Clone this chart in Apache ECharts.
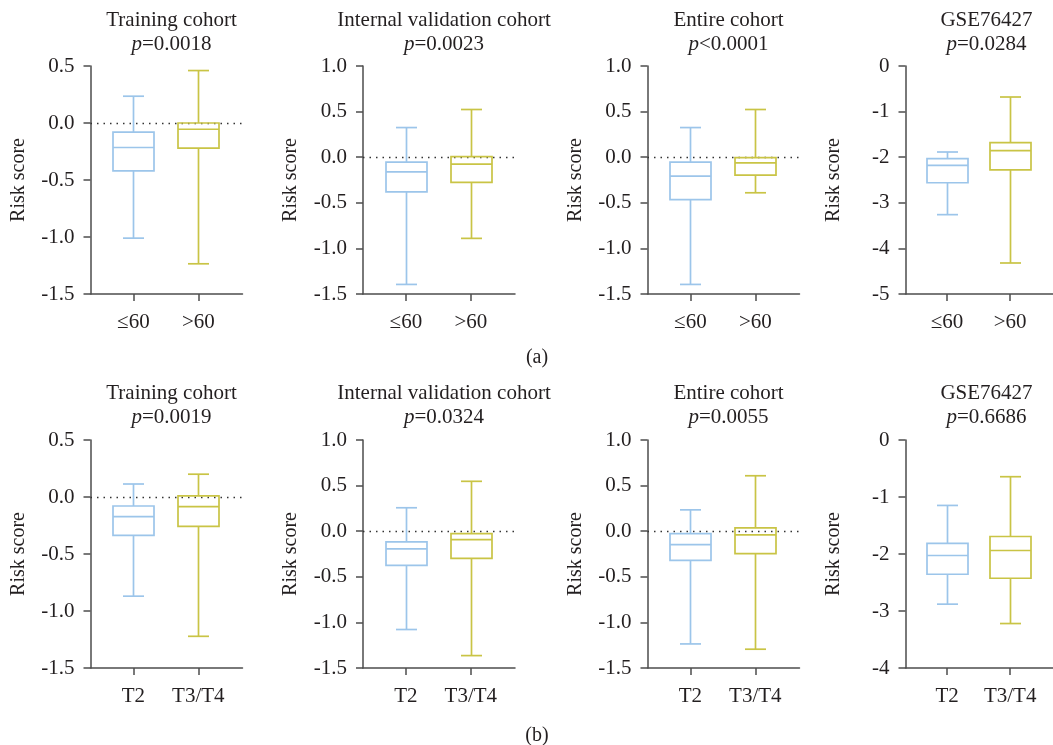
<!DOCTYPE html>
<html>
<head>
<meta charset="utf-8">
<script src="https://cdn.jsdelivr.net/npm/echarts@6/dist/echarts.min.js"></script>
<style>
  html, body { margin: 0; padding: 0; background: #fff; }
  #chart { width: 1053px; height: 745px; }
</style>
</head>
<body>
<div id="chart"></div>
<script>
// Group labels for the two rows of panels
const ageGroups = ['≤60', '>60'];
const stageGroups = ['T2', 'T3/T4'];

// Panel titles and p-values
const cohortTitles = ['Training cohort', 'Internal validation cohort', 'Entire cohort', 'GSE76427'];
const pAge = ['=0.0018', '=0.0023', '<0.0001', '=0.0284'];
const pStage = ['=0.0019', '=0.0324', '=0.0055', '=0.6686'];

// Box statistics per group: [min, Q1, median, Q3, max]
const trainingAge   = [[-1.01, -0.42, -0.215, -0.08, 0.235], [-1.235, -0.22, -0.055, 0.0, 0.46]];
const internalAge   = [[-1.395, -0.38, -0.16, -0.055, 0.325], [-0.89, -0.275, -0.077, 0.007, 0.523]];
const entireAge     = [[-1.395, -0.465, -0.208, -0.055, 0.325], [-0.39, -0.197, -0.062, -0.004, 0.523]];
const gseAge        = [[-3.26, -2.56, -2.18, -2.03, -1.886], [-4.32, -2.28, -1.857, -1.68, -0.68]];
const trainingStage = [[-0.87, -0.337, -0.172, -0.079, 0.114], [-1.222, -0.258, -0.085, 0.01, 0.2]];
const internalStage = [[-1.078, -0.374, -0.194, -0.117, 0.257], [-1.364, -0.297, -0.092, -0.026, 0.547]];
const entireStage   = [[-1.236, -0.319, -0.147, -0.026, 0.234], [-1.294, -0.245, -0.04, 0.037, 0.608]];
const gseStage      = [[-2.88, -2.355, -2.026, -1.815, -1.148], [-3.22, -2.425, -1.939, -1.693, -0.644]];

// Y axis ranges: [min, max, interval]
const yRangeSmall = [-1.5, 0.5, 0.5];
const yRangeWide = [-1.5, 1.0, 0.5];
const yRangeGseAge = [-5, 0, 1];
const yRangeGseStage = [-4, 0, 1];

const panels = [
  { row: 0, col: 0, stats: trainingAge, groups: ageGroups, title: cohortTitles[0], p: pAge[0], y: yRangeSmall, dec: 1, zero: true },
  { row: 0, col: 1, stats: internalAge, groups: ageGroups, title: cohortTitles[1], p: pAge[1], y: yRangeWide, dec: 1, zero: true },
  { row: 0, col: 2, stats: entireAge, groups: ageGroups, title: cohortTitles[2], p: pAge[2], y: yRangeWide, dec: 1, zero: true },
  { row: 0, col: 3, stats: gseAge, groups: ageGroups, title: cohortTitles[3], p: pAge[3], y: yRangeGseAge, dec: 0, zero: false },
  { row: 1, col: 0, stats: trainingStage, groups: stageGroups, title: cohortTitles[0], p: pStage[0], y: yRangeSmall, dec: 1, zero: true },
  { row: 1, col: 1, stats: internalStage, groups: stageGroups, title: cohortTitles[1], p: pStage[1], y: yRangeWide, dec: 1, zero: true },
  { row: 1, col: 2, stats: entireStage, groups: stageGroups, title: cohortTitles[2], p: pStage[2], y: yRangeWide, dec: 1, zero: true },
  { row: 1, col: 3, stats: gseStage, groups: stageGroups, title: cohortTitles[3], p: pStage[3], y: yRangeGseStage, dec: 0, zero: false }
];

// Layout
const FONT = 'Liberation Serif';
const TEXT = '#231f20';
const AXIS = '#4d4d4d';
const groupColors = ['#9cc5ea', '#c9c445'];
const gridLefts = [90.5, 363, 647.5, 905.5];
const gridTops = [66, 440];
const gridW = 152, gridH = 228;

function renderBox(params, api) {
  const gi = api.value(0);
  const lo = api.coord([gi, api.value(1)]);
  const q1 = api.coord([gi, api.value(2)]);
  const md = api.coord([gi, api.value(3)]);
  const q3 = api.coord([gi, api.value(4)]);
  const hi = api.coord([gi, api.value(5)]);
  const cx = Math.round(lo[0]) + 0.5;
  const half = 20.5, cap = 10.5;
  const style = { stroke: groupColors[gi], fill: 'none', lineWidth: 1.7 };
  const line = (x1, y1, x2, y2) => ({ type: 'line', shape: { x1, y1, x2, y2 }, style });
  return {
    type: 'group',
    children: [
      line(cx, hi[1], cx, q3[1]),
      line(cx, q1[1], cx, lo[1]),
      line(cx - cap, hi[1], cx + cap, hi[1]),
      line(cx - cap, lo[1], cx + cap, lo[1]),
      { type: 'rect', shape: { x: cx - half, y: q3[1], width: half * 2, height: q1[1] - q3[1] }, style },
      line(cx - half, md[1], cx + half, md[1])
    ]
  };
}

const grid = [], xAxis = [], yAxis = [], series = [], title = [];

panels.forEach((pn, i) => {
  const left = gridLefts[pn.col];
  const top = gridTops[pn.row];
  grid.push({ left, top, width: gridW, height: gridH, containLabel: false });

  xAxis.push({
    type: 'value', gridIndex: i, min: -0.66, max: 1.68,
    splitLine: { show: false },
    axisLine: { onZero: false, lineStyle: { color: AXIS, width: 1.5 } },
    axisTick: { customValues: [0, 1], length: 7, lineStyle: { color: AXIS, width: 1.5 } },
    axisLabel: {
      customValues: [0, 1], margin: 18,
      formatter: v => pn.groups[Math.round(v)],
      fontFamily: FONT, fontSize: 21, color: TEXT
    }
  });

  yAxis.push({
    type: 'value', gridIndex: i, min: pn.y[0], max: pn.y[1], interval: pn.y[2],
    name: 'Risk score', nameLocation: 'middle', nameGap: 62,
    nameTextStyle: { fontFamily: FONT, fontSize: 20, color: TEXT },
    splitLine: { show: false },
    axisLine: { show: true, onZero: false, lineStyle: { color: AXIS, width: 1.5 } },
    axisTick: { show: true, length: 7, lineStyle: { color: AXIS, width: 1.5 } },
    axisLabel: {
      margin: 16, fontFamily: FONT, fontSize: 21, color: TEXT,
      formatter: v => v.toFixed(pn.dec)
    }
  });

  const s = {
    type: 'custom', xAxisIndex: i, yAxisIndex: i,
    renderItem: renderBox,
    encode: { x: 0, y: [1, 2, 3, 4, 5] },
    data: pn.stats.map((st, gi) => [gi].concat(st)),
    silent: true, z: 3
  };
  if (pn.zero) {
    s.markLine = {
      silent: true, symbol: 'none', animation: false, z: 2,
      label: { show: false },
      lineStyle: { color: '#333', width: 1.3, type: [1.5, 5] },
      data: [{ yAxis: 0 }]
    };
  }
  series.push(s);

  title.push({
    text: '{n|' + pn.title + '}\n{i|p}{n|' + pn.p + '}',
    left: left + gridW / 2, textAlign: 'center',
    top: pn.row === 0 ? 3 : 376,
    textStyle: {
      fontWeight: 'normal',
      rich: {
        n: { fontFamily: FONT, fontSize: 21, fontWeight: 'normal', color: TEXT, lineHeight: 24 },
        i: { fontFamily: FONT, fontSize: 21, fontWeight: 'normal', color: TEXT, fontStyle: 'italic', lineHeight: 24 }
      }
    }
  });
});

// Row captions
title.push({ text: '(a)', left: 532, textAlign: 'center', top: 343,
  textStyle: { fontFamily: FONT, fontSize: 20, fontWeight: 'normal', color: TEXT } });
title.push({ text: '(b)', left: 532, textAlign: 'center', top: 721,
  textStyle: { fontFamily: FONT, fontSize: 20, fontWeight: 'normal', color: TEXT } });

const chart = echarts.init(document.getElementById('chart'), null, { renderer: 'canvas' });
chart.setOption({ animation: false, backgroundColor: '#fff', title, grid, xAxis, yAxis, series });
</script>
</body>
</html>
